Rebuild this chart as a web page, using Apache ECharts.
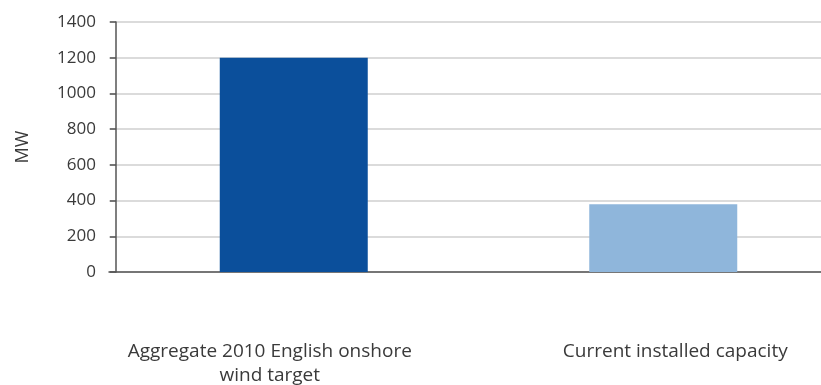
<!DOCTYPE html>
<html>
<head>
<meta charset="utf-8">
<script src="https://cdn.jsdelivr.net/npm/echarts@6/dist/echarts.min.js"></script>
<style>
html,body{margin:0;padding:0;background:#fff;}
#chart{width:821px;height:385px;}
</style>
</head>
<body>
<div id="chart"></div>
<script>
var categories = ['Aggregate 2010 English onshore\nwind target', 'Current installed capacity'];
var values = [1200, 380];
var barColors = ['#0b4f9b', '#8fb6db'];
var yTicks = [0, 200, 400, 600, 800, 1000, 1200, 1400];
var yAxisName = 'MW';

var chart = echarts.init(document.getElementById('chart'));
var FONT = 'Open Sans';
chart.setOption({
  animation: false,
  backgroundColor: '#fff',
  grid: { left: 109, width: 739, top: 22, height: 250, outerBoundsMode: 'none', containLabel: false },
  xAxis: {
    type: 'category',
    data: categories,
    axisLine: { lineStyle: { color: '#555', width: 1.5 } },
    axisTick: { show: false },
    axisLabel: {
      margin: 68,
      interval: 0,
      formatter: function (v, i) { return i === 0 ? '{a|' + v.replace('\n', '}\n{a|') + '}' : '{b|' + v + '}'; },
      rich: {
        a: { fontFamily: FONT, fontSize: 19, color: '#3a3a3a', lineHeight: 24, padding: [0, 48, 0, 0] },
        b: { fontFamily: FONT, fontSize: 19, color: '#3a3a3a', lineHeight: 24, padding: [0, 0, 0, 24] }
      }
    }
  },
  yAxis: {
    type: 'value',
    min: yTicks[0],
    max: yTicks[yTicks.length - 1],
    interval: 200,
    offset: -7,
    name: yAxisName,
    nameLocation: 'middle',
    nameRotate: 90,
    nameGap: 84,
    nameTextStyle: { fontFamily: FONT, fontSize: 18, color: '#3a3a3a' },
    axisLine: { show: true, lineStyle: { color: '#555', width: 1.5 } },
    axisTick: { show: true, length: 6, lineStyle: { color: '#555', width: 1.5 } },
    axisLabel: { margin: 20, fontFamily: FONT, fontSize: 17, color: '#3a3a3a', formatter: function (v) { return String(v); } },
    splitLine: { lineStyle: { color: '#cfcfcf', width: 1.5 } }
  },
  series: [{
    type: 'bar',
    data: values.map(function (v, i) { return { value: v, itemStyle: { color: barColors[i] } }; }),
    barWidth: 148
  }]
});
</script>
</body>
</html>
